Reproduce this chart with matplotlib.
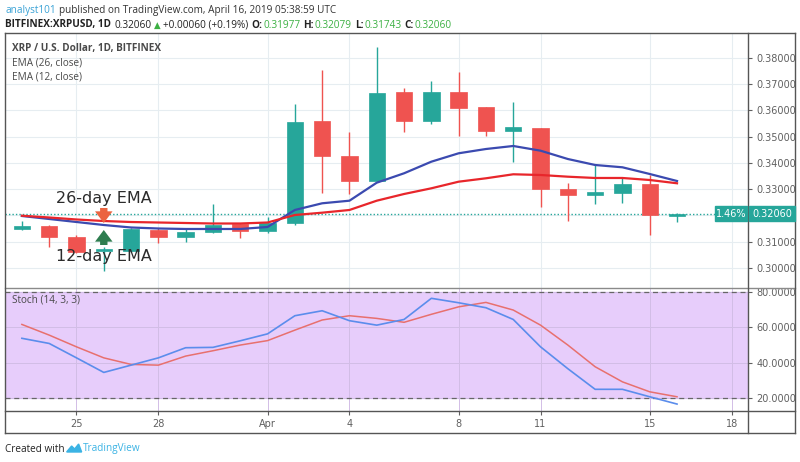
import matplotlib
matplotlib.use("Agg")
import matplotlib.pyplot as plt
import matplotlib.dates as mdates
from matplotlib.lines import Line2D
from matplotlib.patches import Rectangle, Polygon
import numpy as np

# ---------------- data ----------------
dates = ["2019-03-23", "2019-03-24", "2019-03-25", "2019-03-26", "2019-03-27",
         "2019-03-28", "2019-03-29", "2019-03-30", "2019-03-31", "2019-04-01",
         "2019-04-02", "2019-04-03", "2019-04-04", "2019-04-05", "2019-04-06",
         "2019-04-07", "2019-04-08", "2019-04-09", "2019-04-10", "2019-04-11",
         "2019-04-12", "2019-04-13", "2019-04-14", "2019-04-15", "2019-04-16"]
opens = [0.3150, 0.3160, 0.3119, 0.3066, 0.3065, 0.3145, 0.3117, 0.3138, 0.3166, 0.3141,
         0.3173, 0.3559, 0.3427, 0.3330, 0.3672, 0.3560, 0.3672, 0.3612, 0.3523, 0.3534,
         0.3300, 0.3278, 0.3287, 0.3320, 0.31977]
highs = [0.3180, 0.3163, 0.3126, 0.3080, 0.3153, 0.3152, 0.3149, 0.3244, 0.3168, 0.3193,
         0.3625, 0.3754, 0.3519, 0.3841, 0.3684, 0.3714, 0.3748, 0.3612, 0.3634, 0.3535,
         0.3325, 0.3392, 0.3342, 0.3354, 0.32079]
lows = [0.3145, 0.3081, 0.3058, 0.2990, 0.3060, 0.3094, 0.3100, 0.3133, 0.3113, 0.3133,
        0.3164, 0.3287, 0.3282, 0.3330, 0.3519, 0.3549, 0.3503, 0.3504, 0.3405, 0.3231,
        0.3180, 0.3244, 0.3249, 0.3126, 0.31743]
closes = [0.3160, 0.3117, 0.3062, 0.3074, 0.3149, 0.3117, 0.3138, 0.3164, 0.3141, 0.3173,
          0.3557, 0.3427, 0.3330, 0.3666, 0.3561, 0.3672, 0.3608, 0.3523, 0.3536, 0.3301,
          0.3278, 0.3288, 0.3320, 0.3201, 0.32060]
ema12 = [0.31981, 0.31867, 0.31752, 0.31638, 0.31543, 0.31505, 0.31486, 0.31486, 0.31486, 0.31562,
         0.32210, 0.32465, 0.32564, 0.33250, 0.33608, 0.34050, 0.34370, 0.34533, 0.34648, 0.34469,
         0.34152, 0.33924, 0.33836, 0.33581, 0.33314]
ema26 = [0.31992, 0.31924, 0.31848, 0.31790, 0.31752, 0.31733, 0.31714, 0.31695, 0.31695, 0.31733,
         0.32019, 0.32107, 0.32210, 0.32564, 0.32819, 0.33036, 0.33288, 0.33417, 0.33570, 0.33543,
         0.33478, 0.33429, 0.33429, 0.33352, 0.33227]
stoch_k = [53.8, 50.9, 42.8, 34.6, 38.7, 42.8, 48.5, 48.7, 52.4, 56.3,
           66.5, 69.3, 63.7, 61.2, 64.4, 76.3, 73.8, 71.0, 64.4, 49.0,
           36.7, 25.1, 25.1, 20.9, 16.8]
stoch_d = [61.6, 55.6, 49.0, 42.8, 39.1, 38.7, 43.8, 46.8, 50.0, 52.5,
           58.4, 64.1, 66.5, 65.0, 62.8, 67.3, 71.5, 74.0, 69.7, 61.2,
           50.0, 37.8, 29.3, 23.7, 20.9]
last_price = 0.32060
change_pct_label = "1.46%"
price_ticks = [0.30, 0.31, 0.32, 0.33, 0.34, 0.35, 0.36, 0.37, 0.38]
stoch_ticks = [20, 40, 60, 80]
date_tick_dates = ["2019-03-25", "2019-03-28", "2019-04-01", "2019-04-04",
                   "2019-04-08", "2019-04-11", "2019-04-15", "2019-04-18"]
date_tick_labels = ["25", "28", "Apr", "4", "8", "11", "15", "18"]

# ---------------- style ----------------
UP = "#26A69A"
DOWN = "#EF5350"
EMA12_C = "#3B4AB0"
EMA26_C = "#E8262B"
K_C = "#5B8DEC"
D_C = "#E8706E"
STOCH_BG = "#E7CDFB"
GRID = "#E6EDF1"
TXT = "#606060"
FRAME = "#555555"
W, H = 800, 462

fig = plt.figure(figsize=(8, 4.62), dpi=100)
fig.patch.set_facecolor("white")
renderer = fig.canvas.get_renderer()

def fx(px):
    return px / W

def fy(py):
    return 1 - py / H

x = mdates.datestr2num(dates)
x0 = x[0]
xl = (x0 - 0.619, x0 + 26.6)

ax = fig.add_axes([fx(5), fy(288), fx(743), 255 / H])
ax2 = fig.add_axes([fx(5), fy(411), fx(743), 123 / H])

for a in (ax, ax2):
    for s in a.spines.values():
        s.set_visible(False)
    a.set_xlim(*xl)
    a.set_facecolor("white")

tick_x = mdates.datestr2num(date_tick_dates)

# ---- main price panel ----
ax.set_ylim(0.29238, 0.38952)
ax.set_xticks(tick_x)
ax.tick_params(axis="x", length=0, labelbottom=False)
ax.yaxis.tick_right()
ax.set_yticks(price_ticks)
# the 0.32 label sits under the last-price tag, as in the reference
ax.set_yticklabels(["" if abs(v - 0.32) < 1e-9 else f"{v:.5f}" for v in price_ticks])
ax.tick_params(axis="y", direction="out", length=3, width=0.8, pad=3,
               labelsize=7, colors=TXT)
ax.grid(True, color=GRID, lw=0.8)
ax.set_axisbelow(True)

o = np.array(opens); c = np.array(closes)
hi = np.array(highs); lo = np.array(lows)
up = c >= o
cols = np.where(up, UP, DOWN)
ax.vlines(x, lo, hi, colors=cols, lw=1, zorder=2)
ax.bar(x, np.abs(c - o), bottom=np.minimum(o, c), width=0.6, color=cols,
       edgecolor=cols, lw=0.5, zorder=3)

ax.plot(x, ema12, color=EMA12_C, lw=1.6, zorder=4)
ax.plot(x, ema26, color=EMA26_C, lw=1.6, zorder=4)
ax.axhline(last_price, color=UP, lw=1, ls=(0, (1, 1.5)), zorder=1)

# annotations
xa = x[3]
ax.text(xa, 0.32629, "26-day EMA", fontsize=11.5, color="#2b2b2b",
        ha="center", va="center", family="DejaVu Sans", zorder=6)
ax.text(xa, 0.30457, "12-day EMA", fontsize=11.5, color="#2b2b2b",
        ha="center", va="center", family="DejaVu Sans", zorder=6)
arrow_style = "simple,head_width=0.9,head_length=0.6,tail_width=0.38"
ax.annotate("", xy=(xa, 0.31714), xytext=(xa, 0.32286),
            arrowprops=dict(arrowstyle=arrow_style, color="#EB6440", lw=0,
                            mutation_scale=14, shrinkA=0, shrinkB=0), zorder=6)
ax.annotate("", xy=(xa, 0.31448), xytext=(xa, 0.30876),
            arrowprops=dict(arrowstyle=arrow_style, color="#2E7D4F", lw=0,
                            mutation_scale=14, shrinkA=0, shrinkB=0), zorder=6)

# legend texts
LF = "Open Sans"
ax.text(7 / 743, 1 - (49 - 33) / 255, "XRP / U.S. Dollar, 1D, BITFINEX",
        transform=ax.transAxes, fontsize=7.2, fontweight="bold", color="#4a4a4a",
        family=LF, va="center", ha="left")
ax.text(7 / 743, 1 - (63 - 33) / 255, "EMA (26, close)",
        transform=ax.transAxes, fontsize=7.2, color="#4a4a4a",
        family=LF, va="center", ha="left")
ax.text(7 / 743, 1 - (77 - 33) / 255, "EMA (12, close)",
        transform=ax.transAxes, fontsize=7.2, color="#4a4a4a",
        family=LF, va="center", ha="left")

# ---- stoch panel ----
ax2.set_ylim(12.9, 82.1)
ax2.axhspan(20, 80, color=STOCH_BG, zorder=0)
ax2.set_xticks(tick_x)
ax2.set_xticklabels(date_tick_labels)
ax2.tick_params(axis="x", direction="out", length=3, width=0.8, pad=3,
                labelsize=7, colors=TXT)
ax2.yaxis.tick_right()
ax2.set_yticks(stoch_ticks)
ax2.set_yticklabels([f"{v:.4f}" for v in stoch_ticks])
ax2.tick_params(axis="y", direction="out", length=3, width=0.8, pad=3,
                labelsize=7, colors=TXT)
ax2.grid(True, color="#D2BDE6", lw=0.7, zorder=1)
ax2.set_axisbelow(True)
ax2.axhline(80, color="#666666", lw=0.9, ls=(0, (4, 3)), zorder=2)
ax2.axhline(20, color="#666666", lw=0.9, ls=(0, (4, 3)), zorder=2)
ax2.plot(x, stoch_d, color=D_C, lw=1.1, zorder=3)
ax2.plot(x, stoch_k, color=K_C, lw=1.2, zorder=4)
ax2.text(7 / 743, 1 - (300 - 288) / 123, "Stoch (14, 3, 3)",
         transform=ax2.transAxes, fontsize=7.2, color="#4a4a4a",
         family=LF, va="center", ha="left")

# ---- frame lines ----
def hline(y, x1, x2, color=FRAME, lw=1.0):
    fig.add_artist(Line2D([fx(x1), fx(x2)], [fy(y), fy(y)], color=color, lw=lw))

def vline(xp, y1, y2, color=FRAME, lw=1.0):
    fig.add_artist(Line2D([fx(xp), fx(xp)], [fy(y1), fy(y2)], color=color, lw=lw))

hline(33, 5, 795)
hline(288, 5, 795, color="#8a8a8a")
hline(411, 5, 795)
hline(433, 5, 795)
vline(5, 33, 433)
vline(795, 33, 433)
vline(748, 33, 433)

# ---- price labels ----
fig.add_artist(Rectangle((fx(749), fy(221)), fx(46), 15 / H, color=UP, zorder=5))
fig.text(fx(772), fy(213.5), f"{last_price:.5f}", color="white", fontsize=7,
         ha="center", va="center", zorder=6)
fig.add_artist(Rectangle((fx(715), fy(221)), fx(32), 15 / H, color=UP, zorder=5))
fig.text(fx(731), fy(213.5), change_pct_label, color="white", fontsize=7,
         ha="center", va="center", zorder=6)

# ---- header (pieces laid out one after another) ----
HF = "Open Sans"
HS = 7.2

def put(xp, yp, s, gap=0, **kw):
    kw.setdefault("fontsize", HS)
    kw.setdefault("family", HF)
    t = fig.text(fx(xp), fy(yp), s, va="center", ha="left", **kw)
    bb = t.get_window_extent(renderer)
    return bb.x1 + gap

nx = put(5, 10, "analyst101", gap=3, color="#3BA3D6")
put(nx, 10, "published on TradingView.com, April 16, 2019 05:38:59 UTC", color="#333333")

GREEN_T = "#3CB043"
nx = put(5, 25, "BITFINEX:XRPUSD, 1D", gap=4, color="#222222", fontweight="bold")
nx = put(nx, 25, "0.32060", gap=2, color="#222222")
nx = put(nx, 25, "\u25B2", gap=2, color=GREEN_T, family="DejaVu Sans", fontsize=6.2)
nx = put(nx, 25, "+0.00060 (+0.19%)", gap=3, color="#222222")
for lab, val in [("O:", "0.31977"), ("H:", "0.32079"), ("L:", "0.31743"), ("C:", "0.32060")]:
    nx = put(nx, 25, lab, gap=1, color="#222222", fontweight="bold")
    nx = put(nx, 25, val, gap=3, color=GREEN_T)

# ---- footer ----
nx = put(5, 449, "Created with", gap=2, color="#222222")
logo = Polygon([[fx(nx), fy(452)], [fx(nx + 5), fy(446)], [fx(nx + 8), fy(449)],
                [fx(nx + 12), fy(444)], [fx(nx + 15), fy(452)]], closed=True,
               color="#3BB3E4")
fig.add_artist(logo)
put(nx + 16, 449, "TradingView", color="#3BB3E4")

fig.savefig("out.png", dpi=100, facecolor="white")
